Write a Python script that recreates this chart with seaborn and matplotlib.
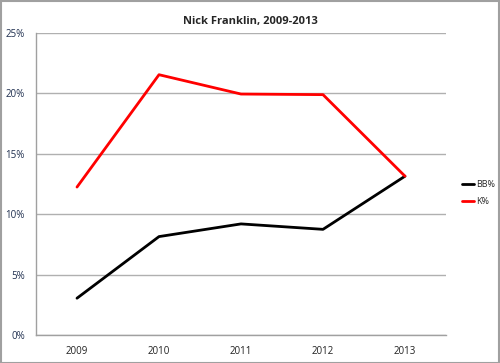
import pandas as pd
import matplotlib.pyplot as plt
import seaborn as sns

years = [2009, 2010, 2011, 2012, 2013]
bb_pct = [3.05, 8.15, 9.2, 8.75, 13.15]
k_pct = [12.25, 21.55, 19.95, 19.9, 13.15]
series_names = ['BB%', 'K%']
ytick_labels = ['0%', '5%', '10%', '15%', '20%', '25%']

df = pd.DataFrame({
    'year': years * 2,
    'value': bb_pct + k_pct,
    'series': [series_names[0]] * len(years) + [series_names[1]] * len(years),
})

sns.set_style('white')
plt.rcParams['font.family'] = ['Open Sans', 'DejaVu Sans']

fig = plt.figure(figsize=(5, 3.63), dpi=100)
ax = fig.add_axes([0.072, 0.077, 0.82, 0.832])

sns.lineplot(data=df, x='year', y='value', hue='series',
             palette={'BB%': 'black', 'K%': '#ff0000'},
             linewidth=2, ax=ax, legend=True)

ax.set_xlim(2008.5, 2013.5)
ax.set_ylim(0, 25)
ax.set_xticks(years)
ax.set_xticklabels([str(y) for y in years], fontsize=7, color='#222222')
ax.set_yticks([0, 5, 10, 15, 20, 25])
ax.set_yticklabels(ytick_labels, fontsize=7, color='#1f2f4f')
ax.tick_params(axis='both', length=0, pad=8)
ax.yaxis.grid(True, color='#b0b0b0', linewidth=1)
ax.set_axisbelow(True)
for s in ['top', 'right']:
    ax.spines[s].set_visible(False)
for s in ['left', 'bottom']:
    ax.spines[s].set_color('#a0a0a0')
    ax.spines[s].set_linewidth(1)
ax.set_xlabel('')
ax.set_ylabel('')

fig.suptitle('Nick Franklin, 2009-2013', fontsize=8, fontweight='bold',
             x=0.5, y=0.955)

leg = ax.legend(loc='center left', bbox_to_anchor=(1.02, 0.47), frameon=False,
                fontsize=6.5, handlelength=1.3, handletextpad=0.2,
                labelspacing=0.8)
for line in leg.get_lines():
    line.set_linewidth(2)

fig.patches.append(plt.Rectangle((0.001, 0.001), 0.997, 0.997,
                                 transform=fig.transFigure, fill=False,
                                 edgecolor='#a0a0a0', linewidth=1.5))

fig.savefig('out.png', dpi=100)
